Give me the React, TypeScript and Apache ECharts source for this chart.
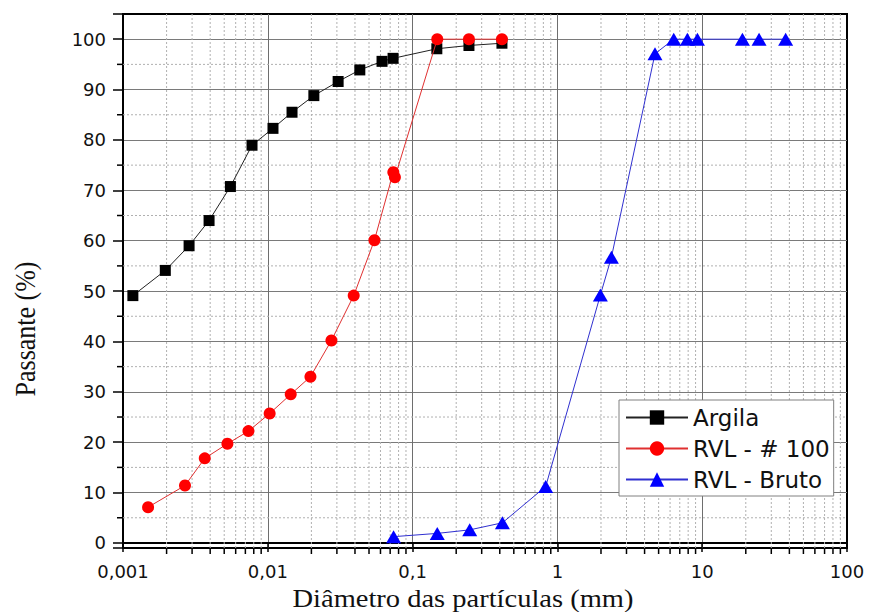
import React, { useEffect, useRef } from "react";
import * as echarts from "echarts";

// ---- data ----
const ARGILA_D = [0.00117, 0.00196, 0.00286, 0.00393, 0.00552, 0.00778, 0.01086, 0.0147, 0.0208, 0.0306, 0.0432, 0.0615, 0.0733, 0.147, 0.245, 0.414];
const ARGILA_P = [49.1, 54.1, 59.0, 64.0, 70.75, 78.95, 82.3, 85.5, 88.8, 91.6, 93.9, 95.6, 96.2, 98.1, 98.75, 99.2];

const RVL100_D = [0.00149, 0.00268, 0.00367, 0.00526, 0.00735, 0.0103, 0.0144, 0.0197, 0.0275, 0.0392, 0.0545, 0.0736, 0.0755, 0.148, 0.245, 0.414];
const RVL100_P = [7.1, 11.4, 16.8, 19.7, 22.2, 25.7, 29.5, 33.0, 40.2, 49.1, 60.1, 73.6, 72.6, 100, 100, 100];

const BRUTO_D = [0.0739, 0.148, 0.248, 0.417, 0.83, 1.98, 2.36, 4.72, 6.36, 7.9, 9.27, 18.96, 24.7, 37.7];
const BRUTO_P = [1.25, 1.9, 2.6, 4.0, 11.2, 49.2, 56.7, 97.1, 100, 100, 100, 100, 100, 100];

const SERIES_NAMES = ["Argila", "RVL - # 100", "RVL - Bruto"];

const X_MIN = 0.001;
const X_MAX = 100;
const Y_MIN = -1;
const Y_MAX = 105;
const X_TICK_LABELS = ["0,001", "0,01", "0,1", "1", "10", "100"];
const Y_TICK_LABELS = [0, 10, 20, 30, 40, 50, 60, 70, 80, 90, 100];
const Y_MINOR = [5, 15, 25, 35, 45, 55, 65, 75, 85, 95];
const X_DECADES = [0.001, 0.01, 0.1, 1, 10];
const X_MINOR_MULT = [2, 3, 4, 5, 6, 7, 8, 9];

const zip = (xs: number[], ys: number[]) => xs.map((x, i) => [x, ys[i]]);

export default function App() {
  const ref = useRef<HTMLDivElement>(null);

  useEffect(() => {
    if (!ref.current) return;
    const chart = echarts.init(ref.current, undefined, { renderer: "svg" });

    const xMinor: number[][] = [];
    X_DECADES.forEach((d) => X_MINOR_MULT.forEach((m) => xMinor.push([d * m, Y_MIN])));
    const yMinor = Y_MINOR.map((v) => [X_MIN, v]);

    const labelFont = { fontFamily: "DejaVu Sans", fontSize: 18, color: "#111" };

    chart.setOption({
      animation: false,
      backgroundColor: "#fff",
      grid: {
        left: 123,
        right: 27,
        top: 14,
        bottom: 64,
        show: true,
        borderColor: "#000",
        borderWidth: 2,
        backgroundColor: "transparent",
      },
      xAxis: {
        type: "log",
        logBase: 10,
        min: X_MIN,
        max: X_MAX,
        axisLine: { show: true, lineStyle: { color: "#000", width: 2 } },
        axisTick: { show: true, inside: false, length: 9, lineStyle: { color: "#000", width: 1.5 } },
        axisLabel: {
          ...labelFont,
          margin: 14,
          formatter: (v: number) => {
            const i = Math.round(Math.log10(v)) + 3;
            return X_TICK_LABELS[i] ?? "";
          },
        },
        splitLine: {
          show: true,
          showMinLine: false,
          showMaxLine: false,
          lineStyle: { color: "#6e6e6e", width: 1 },
        },
        minorTick: { show: false },
      },
      yAxis: {
        type: "value",
        min: Y_MIN,
        max: Y_MAX,
        splitNumber: 10,
        axisLine: { show: true, lineStyle: { color: "#000", width: 2 } },
        axisTick: { show: true, inside: false, length: 10, lineStyle: { color: "#000", width: 1.5 } },
        axisLabel: {
          ...labelFont,
          margin: 17,
          formatter: (v: number) => (Y_TICK_LABELS.indexOf(Math.round(v)) >= 0 && Math.abs(v - Math.round(v)) < 1e-9 ? String(Math.round(v)) : ""),
        },
        splitLine: {
          show: true,
          showMinLine: false,
          showMaxLine: false,
          lineStyle: { color: "#7a7a7a", width: 1 },
        },
      },
      legend: {
        data: SERIES_NAMES,
        orient: "vertical",
        left: 619,
        top: 400,
        padding: [6, 4, 5, 6],
        itemGap: 8,
        itemWidth: 62,
        itemHeight: 18,
        backgroundColor: "#fff",
        borderColor: "#808080",
        borderWidth: 1,
        borderRadius: 0,
        textStyle: { fontFamily: "DejaVu Sans", fontSize: 23, color: "#111" },
      },
      graphic: [
        {
          type: "text",
          x: 25,
          y: 329,
          rotation: Math.PI / 2,
          scaleY: 1.15,
          style: {
            text: "Passante (%)",
            fontFamily: "Liberation Serif",
            fontSize: 26,
            fill: "#111",
            align: "center",
            verticalAlign: "middle",
          },
        },
        {
          type: "text",
          x: 463,
          y: 599,
          scaleX: 1.14,
          style: {
            text: "Diâmetro das partículas (mm)",
            fontFamily: "Liberation Serif",
            fontSize: 25,
            fill: "#111",
            align: "center",
            verticalAlign: "middle",
          },
        },
      ],
      series: [
        {
          type: "custom",
          name: "xminor",
          z: 1,
          silent: true,
          clip: false,
          encode: { x: 0, y: 1 },
          data: xMinor,
          renderItem: (params: any, api: any) => {
            const v = api.value(0);
            const b = api.coord([v, Y_MIN]);
            const t = api.coord([v, Y_MAX]);
            return {
              type: "group",
              children: [
                { type: "line", shape: { x1: b[0], y1: b[1], x2: t[0], y2: t[1] }, style: { stroke: "#b0b0b0", lineWidth: 1, lineDash: [2, 2] } },
                { type: "line", shape: { x1: b[0], y1: b[1], x2: b[0], y2: b[1] + 6 }, style: { stroke: "#000", lineWidth: 1.5 } },
              ],
            };
          },
        },
        {
          type: "custom",
          name: "yminor",
          z: 1,
          silent: true,
          clip: false,
          encode: { x: 0, y: 1 },
          data: yMinor,
          renderItem: (params: any, api: any) => {
            const v = api.value(1);
            const l = api.coord([X_MIN, v]);
            const r = api.coord([X_MAX, v]);
            return {
              type: "group",
              children: [
                { type: "line", shape: { x1: l[0], y1: l[1], x2: r[0], y2: r[1] }, style: { stroke: "#b0b0b0", lineWidth: 1, lineDash: [2, 2] } },
                { type: "line", shape: { x1: l[0], y1: l[1], x2: l[0] - 6, y2: l[1] }, style: { stroke: "#000", lineWidth: 1.5 } },
              ],
            };
          },
        },
        {
          type: "line",
          name: SERIES_NAMES[0],
          data: zip(ARGILA_D, ARGILA_P),
          symbol: "rect",
          symbolSize: 11,
          itemStyle: { color: "#000" },
          lineStyle: { color: "#222", width: 1 },
          z: 3,
        },
        {
          type: "line",
          name: SERIES_NAMES[1],
          data: zip(RVL100_D, RVL100_P),
          symbol: "circle",
          symbolSize: 12,
          itemStyle: { color: "#ff0000" },
          lineStyle: { color: "#e03030", width: 1 },
          z: 4,
        },
        {
          type: "line",
          name: SERIES_NAMES[2],
          data: zip(BRUTO_D, BRUTO_P),
          symbol: "triangle",
          symbolSize: [15, 13],
          itemStyle: { color: "#0000ff" },
          lineStyle: { color: "#3030d0", width: 1 },
          z: 5,
        },
      ],
    });

    return () => chart.dispose();
  }, []);

  return (
    <div
      ref={ref}
      style={{ position: "fixed", left: 0, top: 0, width: 874, height: 612, background: "#fff" }}
    />
  );
}
